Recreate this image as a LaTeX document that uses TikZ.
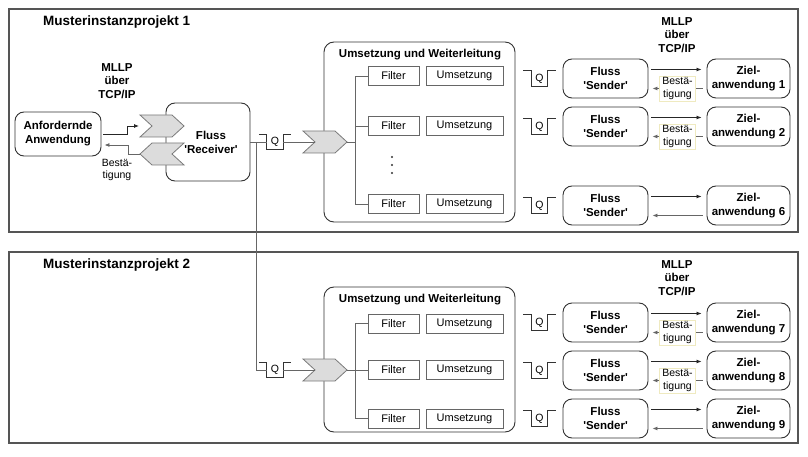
\documentclass[tikz,border=0pt]{standalone}
\usepackage{fontspec}
\setmainfont{Liberation Sans}
\usetikzlibrary{arrows.meta}

\definecolor{framegray}{HTML}{555555}
\definecolor{boxgray}{HTML}{333333}
\definecolor{linegray}{HTML}{666666}
\definecolor{chevfill}{HTML}{DCDCDC}
\definecolor{chevline}{HTML}{7A7A7A}
\definecolor{notepale}{HTML}{EFEAC0}

\newcommand{\fs}[2]{\fontsize{#1}{#2}\selectfont}
\newcommand{\sq}{\textquotesingle}

% queue icon: a channel open at the top with a "Q" inside
\newcommand{\qicon}[3]{%
  \node[qbox] (#1) at (#2,#3) {Q};
  \draw[qline] ([xshift=-8pt]#1.north west) -- (#1.north west) -- (#1.south west)
     -- (#1.south east) -- (#1.north east) -- ([xshift=8pt]#1.north east);}

% chevron pointing right, centred at (x,y)
\newcommand{\chevright}[3]{%
  \draw[chev] (#2-22,#3-11) -- (#2+10,#3-11) -- (#2+22,#3) -- (#2+10,#3+11)
     -- (#2-22,#3+11) -- (#2-10,#3) -- cycle;
  \coordinate (#1-in) at (#2-10,#3);
  \coordinate (#1-back) at (#2-22,#3);
  \coordinate (#1-out) at (#2+22,#3);}

% chevron pointing left, centred at (x,y)
\newcommand{\chevleft}[3]{%
  \draw[chev] (#2-22,#3) -- (#2-10,#3-11) -- (#2+22,#3-11) -- (#2+10,#3)
     -- (#2+22,#3+11) -- (#2-10,#3+11) -- cycle;
  \coordinate (#1-tip) at (#2-22,#3);}

\tikzset{
  frame/.style={draw=framegray, line width=1.3pt},
  projtitle/.style={anchor=west, inner sep=0pt, font=\bfseries\fs{13.5}{16}},
  proto/.style={align=center, inner sep=0pt, font=\bfseries\fs{11.5}{13.5}},
  rbox/.style={draw=boxgray, line width=0.9pt, rounded corners=9pt, fill=white,
    align=center, inner sep=0pt, font=\bfseries\fs{11.5}{14}},
  sender/.style={rbox, minimum width=85pt, minimum height=39pt},
  target/.style={rbox, minimum width=83pt, minimum height=39pt},
  router/.style={draw=boxgray, line width=0.9pt, rounded corners=10pt, fill=white,
    inner sep=0pt, minimum width=191pt},
  routertitle/.style={inner sep=0pt, font=\bfseries\fs{11.5}{14}},
  filterbox/.style={draw=linegray, line width=0.9pt, fill=white, minimum height=19pt,
    inner sep=0pt, font=\fs{11}{13}},
  filt/.style={filterbox, minimum width=51pt},
  conv/.style={filterbox, minimum width=77pt},
  wire/.style={draw=linegray, line width=0.8pt},
  fwd/.style={draw=black!85, line width=0.8pt, -{Latex[length=5pt,width=4pt]},
    shorten <=3pt, shorten >=5pt},
  ack/.style={draw=linegray, line width=0.8pt, -{Latex[length=5pt,width=4pt]},
    shorten <=4pt, shorten >=4pt},
  acklabel/.style={draw=notepale, fill=white, align=center, font=\fs{10.5}{12.5},
    inner sep=1.5pt, minimum width=36pt},
  acktext/.style={align=center, inner sep=0pt, font=\fs{10.5}{12.5}},
  qbox/.style={inner sep=0pt, minimum width=16pt, minimum height=15pt, font=\fs{10.5}{12}},
  qline/.style={draw=boxgray, line width=0.8pt},
  chev/.style={fill=chevfill, draw=chevline, line width=0.8pt},
}

\begin{document}
\begin{tikzpicture}[x=1pt,y=-1pt]
\useasboundingbox (0,0) rectangle (808,457);

% project frames
\draw[frame] (9,9) rectangle (798,232);
\draw[frame] (9,252) rectangle (798,443);
\node[projtitle] (title1) at (43,22) {Musterinstanzprojekt 1};
\node[projtitle] (title2) at (43,265) {Musterinstanzprojekt 2};

% protocol captions
\node[proto] (mllpL) at (117,81) {MLLP\\über\\TCP/IP};
\node[proto] (mllpR1) at (677,35) {MLLP\\über\\TCP/IP};
\node[proto] (mllpR2) at (677,278) {MLLP\\über\\TCP/IP};

% routing boxes
\node[router, minimum height=180pt] (uw1) at (419.5,132) {};
\node[routertitle] (uwt1) at (420,55) {Umsetzung und Weiterleitung};
\node[router, minimum height=145pt] (uw2) at (419.5,359.5) {};
\node[routertitle] (uwt2) at (420,300) {Umsetzung und Weiterleitung};

% filter / transformation pairs
\foreach \id/\y in {11/76,12/126,13/204,21/323.5,22/370,23/418.5}{
  \node[filt] (f\id) at (393.5,\y) {Filter};
  \node[conv] (c\id) at (464.5,\y) {Umsetzung};
}
\fill[black!80] (392,157) circle (1.1pt) (392,165) circle (1.1pt) (392,173) circle (1.1pt);

% requesting application and receiver flow
\node[rbox, minimum width=86pt, minimum height=44pt] (anf) at (58,134) {Anfordernde\\Anwendung};
\node[rbox, minimum width=84pt, minimum height=78pt] (recv) at (208,142) {\hspace*{6pt}Fluss\\\hspace*{6pt}\sq Receiver\sq};
\chevright{rin}{162}{126}
\chevleft{rout}{162}{154}
\node[acktext] (ackL) at (117,170) {Bestä-\\tigung};

\draw[fwd, shorten <=2pt, shorten >=1pt] (anf.east) -- ++(26,0) |- (rin-back);
\draw[ack, shorten <=0pt, shorten >=3pt] (rout-tip) -- ++(-12,0) |- ([yshift=-11pt]anf.east);

% receiver output, queues and routers
\qicon{qr1}{275}{142}
\qicon{qr2}{275}{370}
\chevright{rt1}{325}{142}
\chevright{rt2}{325}{370}
\coordinate (split) at (256,142);
\draw[wire] (recv.east) -- (qr1.west);
\draw[wire] (qr1.east) -- (rt1-in);
\draw[wire] (split) |- (qr2.west);
\draw[wire] (qr2.east) -- (rt2-in);

% distribution buses to the filters
\coordinate (bus1) at (356,142);
\coordinate (bus2) at (356,370);
\draw[wire] (rt1-out) -- (bus1);
\draw[wire] (f11.west) -- ++(-12,0) |- (f13.west);
\draw[wire] (f12.west) -- ++(-12,0);
\draw[wire] (rt2-out) -- (bus2);
\draw[wire] (f21.west) -- ++(-12,0) |- (f23.west);
\draw[wire] (f22.west) -- ++(-12,0);

% sender flows and target applications
\foreach \id/\y/\num in {a/78.5/1,b/126.5/2,c/205.5/6,d/322.5/7,e/370.5/8,f/418.5/9}{
  \qicon{q\id}{539.5}{\y}
  \node[sender] (s\id) at (605.5,\y) {Fluss\\\sq Sender\sq};
  \node[target] (t\id) at (748.5,\y) {Ziel-\\anwendung \num};
  \draw[fwd] ([yshift=9pt]s\id.east) -- ([yshift=9pt]s\id.east -| t\id.west);
}
\foreach \id in {a,b,d,e}{
  \draw[ack] ([yshift=-10pt]t\id.west) -- ([yshift=-10pt]t\id.west -| s\id.east)
    node[acklabel, midway] (ack\id) {Bestä-\\tigung};
}
\foreach \id in {c,f}{
  \draw[ack] ([yshift=-10pt]t\id.west) -- ([yshift=-10pt]t\id.west -| s\id.east);
}
\end{tikzpicture}
\end{document}
